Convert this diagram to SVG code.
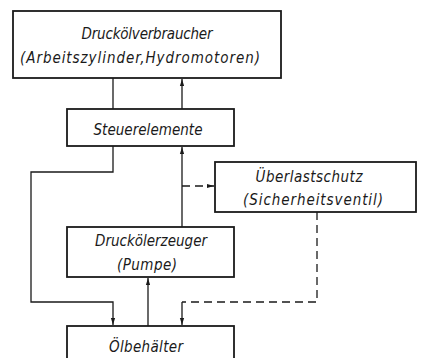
<svg xmlns="http://www.w3.org/2000/svg" width="422" height="358" viewBox="0 0 422 358">
<defs>
<style>
.box{fill:#fff;stroke:#1a1a1a;stroke-width:1.8}
.t{font-family:"DejaVu Sans Condensed","DejaVu Sans",sans-serif;font-stretch:condensed;font-style:italic;font-size:15px;fill:#1a1a1a;text-anchor:middle}
.c{fill:none;stroke:#1a1a1a;stroke-width:1.3}
.d{fill:none;stroke:#1a1a1a;stroke-width:1.3;stroke-dasharray:8,5}
</style>
<marker id="ah" viewBox="0 0 10 10" refX="10" refY="5" markerWidth="8" markerHeight="7" orient="auto" markerUnits="userSpaceOnUse">
<path d="M0,2 L10,5 L0,8 Z" fill="#1a1a1a"/>
</marker>
</defs>
<rect width="422" height="358" fill="#fff"/>
<g id="connectors">
<line class="c" x1="113" y1="109" x2="113" y2="78"/>
<line class="c" x1="182" y1="109" x2="182" y2="79" marker-end="url(#ah)"/>
<polyline class="c" points="113,146 113,172 31,172 31,302 113,302 113,325" marker-end="url(#ah)"/>
<line class="c" x1="182" y1="227" x2="182" y2="147" marker-end="url(#ah)"/>
<line class="d" x1="182" y1="186" x2="214" y2="186" stroke-dasharray="6,4" marker-end="url(#ah)"/>
<polyline class="d" points="317,212 317,302 182,302"/>
<line class="c" x1="182" y1="302" x2="182" y2="325" marker-end="url(#ah)"/>
<line class="c" x1="148" y1="326" x2="148" y2="278" marker-end="url(#ah)"/>
</g>
<g id="verbraucher">
<rect class="box" x="13" y="11" width="268" height="67"/>
<text class="t" x="147" y="39" textLength="131" lengthAdjust="spacing">Druckölverbraucher</text>
<text class="t" x="140" y="63" textLength="240" lengthAdjust="spacing">(Arbeitszylinder,Hydromotoren)</text>
</g>
<g id="steuerelemente">
<rect class="box" x="67" y="109" width="167" height="37"/>
<text class="t" x="148" y="135" textLength="109" lengthAdjust="spacing">Steuerelemente</text>
</g>
<g id="ueberlastschutz">
<rect class="box" x="215" y="162" width="201" height="50"/>
<text class="t" x="309" y="182" textLength="107" lengthAdjust="spacing">Überlastschutz</text>
<text class="t" x="313" y="205" textLength="140" lengthAdjust="spacing">(Sicherheitsventil)</text>
</g>
<g id="erzeuger">
<rect class="box" x="67" y="227" width="167" height="50"/>
<text class="t" x="151" y="246" textLength="112" lengthAdjust="spacing">Druckölerzeuger</text>
<text class="t" x="147" y="270" textLength="60" lengthAdjust="spacing">(Pumpe)</text>
</g>
<g id="oelbehaelter">
<rect class="box" x="67" y="326" width="167" height="40"/>
<text class="t" x="146" y="352" textLength="74" lengthAdjust="spacing">Ölbehälter</text>
</g>
</svg>
